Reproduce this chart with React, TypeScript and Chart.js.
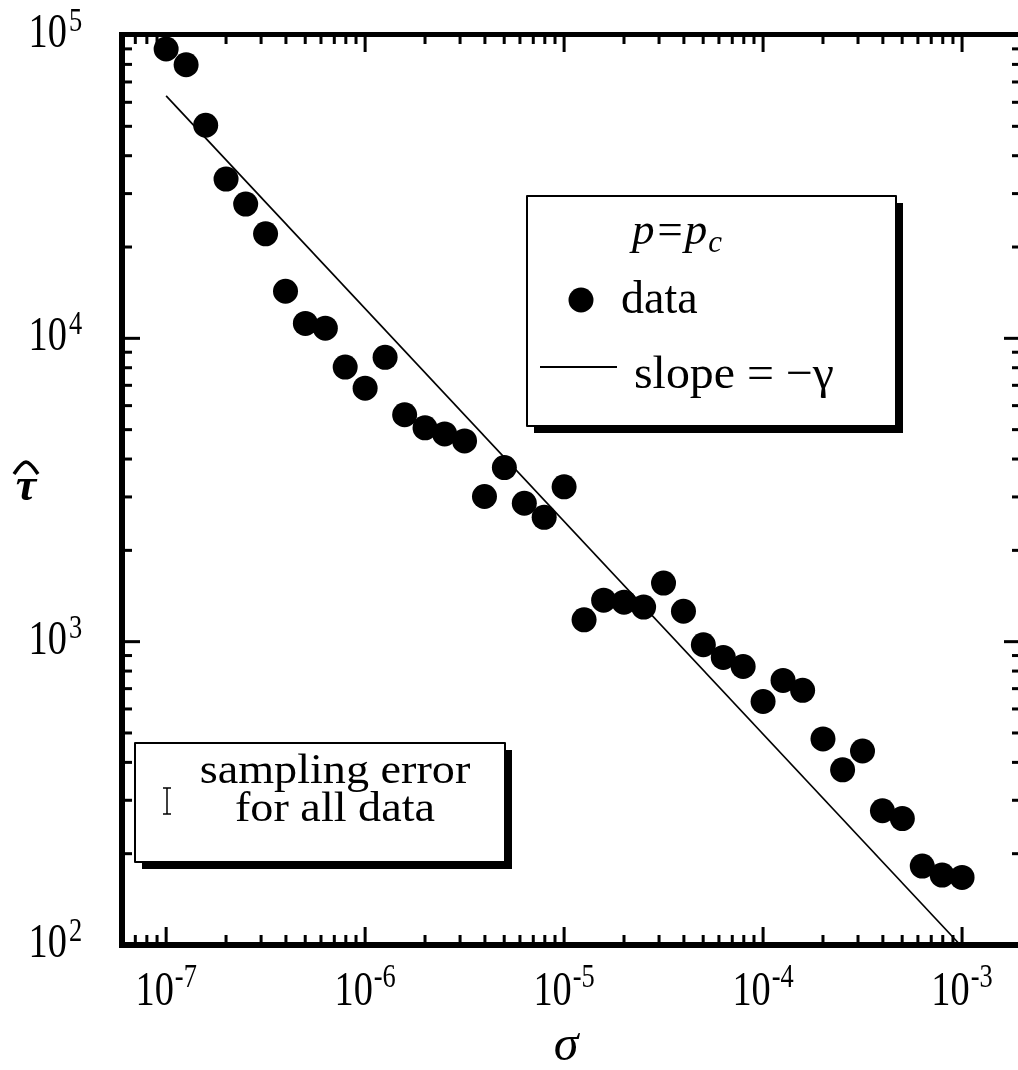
import React, { useEffect, useRef } from 'react';
import { Chart, registerables } from 'chart.js';

Chart.register(...registerables);

// ---- data ----
const sigma = [
  1.0e-7, 1.26e-7, 1.58e-7, 2.0e-7, 2.51e-7, 3.16e-7, 3.98e-7, 5.01e-7, 6.31e-7, 7.94e-7,
  1.0e-6, 1.26e-6, 1.58e-6, 2.0e-6, 2.51e-6, 3.16e-6, 3.98e-6, 5.01e-6, 6.31e-6, 7.94e-6,
  1.0e-5, 1.26e-5, 1.58e-5, 2.0e-5, 2.51e-5, 3.16e-5, 3.98e-5, 5.01e-5, 6.31e-5, 7.94e-5,
  1.0e-4, 1.26e-4, 1.58e-4, 2.0e-4, 2.51e-4, 3.16e-4, 3.98e-4, 5.01e-4, 6.31e-4, 7.94e-4,
  1.0e-3,
];
const tau = [
  89900, 79800, 50400, 33500, 27700, 22100, 14300, 11200, 10800, 8040,
  6850, 8660, 5600, 5070, 4840, 4590, 3010, 3750, 2860, 2570,
  3240, 1180, 1370, 1350, 1300, 1560, 1260, 977, 887, 828,
  635, 745, 691, 478, 378, 436, 277, 261, 182, 170,
  167,
];
const slopeX = [1.0e-7, 9.8e-4];
const slopeY = [63000, 100];

const xTickExps = [-7, -6, -5, -4, -3];
const yTickExps = [2, 3, 4, 5];
const X_MIN = 6.01e-8;
const X_MAX = 2.001e-3;
const Y_MIN = 100;
const Y_MAX = 100000;

const xTitle = 'σ';
const yTitle = 'τ';
const legendTitle = 'p=p';
const legendSub = 'c';
const legendData = 'data';
const legendSlope = 'slope = −γ';
const noteLines = ['sampling error', 'for all data'];

const SERIF = '"Liberation Serif", "Times New Roman", serif';

function drawScaledText(ctx: CanvasRenderingContext2D, text: string, x: number, y: number, sx: number) {
  ctx.save();
  ctx.translate(x, y);
  ctx.scale(sx, 1);
  ctx.fillText(text, 0, 0);
  ctx.restore();
}

const framePlugin = {
  id: 'framePlugin',
  afterDraw(chart: any) {
    const ctx: CanvasRenderingContext2D = chart.ctx;
    const { left, right, top, bottom } = chart.chartArea;
    const xs = chart.scales.x;
    const ys = chart.scales.y;
    ctx.save();
    ctx.fillStyle = '#000';
    ctx.strokeStyle = '#000';

    // frame
    ctx.fillRect(left - 3, top - 3, right - left + 6, 5);
    ctx.fillRect(left - 3, bottom - 3, right - left + 6, 6);
    ctx.fillRect(left - 3, top - 3, 6, bottom - top + 6);
    ctx.fillRect(right - 3, top - 3, 6, bottom - top + 6);

    // ticks
    const ticksFor = (min: number, max: number) => {
      const out: { v: number; major: boolean }[] = [];
      for (let e = Math.floor(Math.log10(min)); e <= Math.ceil(Math.log10(max)); e++) {
        for (let m = 1; m <= 9; m++) {
          const v = m * Math.pow(10, e);
          if (v >= min * 1.0001 && v <= max * 0.9999) out.push({ v, major: m === 1 });
        }
      }
      return out;
    };
    for (const t of ticksFor(X_MIN, X_MAX)) {
      const px = xs.getPixelForValue(t.v);
      const len = t.major ? 15 : 7;
      ctx.fillRect(px - 1.5, bottom - 3 - len, 3, len);
      ctx.fillRect(px - 1.5, top + 2, 3, len);
    }
    for (const t of ticksFor(Y_MIN, Y_MAX)) {
      const py = ys.getPixelForValue(t.v);
      const len = t.major ? 15 : 7;
      ctx.fillRect(left + 3, py - 1.5, len, 3);
      ctx.fillRect(right - 3 - len, py - 1.5, len, 3);
    }

    // tick labels
    ctx.textBaseline = 'alphabetic';
    ctx.textAlign = 'left';
    const baseFont = '48px ' + SERIF;
    const supFont = '33px ' + SERIF;
    const sx = 0.8;
    for (const e of xTickExps) {
      const px = xs.getPixelForValue(Math.pow(10, e));
      ctx.font = baseFont;
      const w10 = ctx.measureText('10').width * sx;
      ctx.font = supFont;
      const es = String(e);
      const we = ctx.measureText(es).width * sx;
      const start = px - (w10 + we + 1) / 2;
      ctx.font = baseFont;
      drawScaledText(ctx, '10', start, 1005, sx);
      ctx.font = supFont;
      drawScaledText(ctx, es, start + w10 + 1, 987, sx);
    }
    for (const e of yTickExps) {
      const py = ys.getPixelForValue(Math.pow(10, e));
      ctx.font = baseFont;
      const w10 = ctx.measureText('10').width * sx;
      drawScaledText(ctx, '10', 67 - w10, py + 12, sx);
      ctx.font = supFont;
      drawScaledText(ctx, String(e), 69, py - 4, sx);
    }

    // axis titles
    ctx.font = 'italic 50px ' + SERIF;
    ctx.textAlign = 'center';
    ctx.fillText(xTitle, 566, 1060);
    ctx.font = 'italic bold 46px ' + SERIF;
    ctx.fillText(yTitle, 26, 500);
    ctx.lineWidth = 3.5;
    ctx.lineJoin = 'round';
    ctx.beginPath();
    ctx.moveTo(14, 474);
    ctx.quadraticCurveTo(22, 462, 26, 462);
    ctx.quadraticCurveTo(30, 462, 38, 474);
    ctx.stroke();

    // legend box
    const drawBox = (x0: number, y0: number, x1: number, y1: number) => {
      ctx.fillStyle = '#000';
      ctx.fillRect(x0 + 7, y0 + 7, x1 - x0, y1 - y0);
      ctx.fillStyle = '#fff';
      ctx.fillRect(x0, y0, x1 - x0, y1 - y0);
      ctx.strokeStyle = '#000';
      ctx.lineWidth = 2;
      ctx.strokeRect(x0, y0, x1 - x0, y1 - y0);
      ctx.fillStyle = '#000';
    };
    drawBox(527, 196, 896, 426);
    ctx.textAlign = 'left';
    ctx.font = 'italic 45px ' + SERIF;
    ctx.fillText(legendTitle, 632, 244);
    const wt = ctx.measureText(legendTitle).width;
    ctx.font = 'italic 31px ' + SERIF;
    ctx.fillText(legendSub, 632 + wt + 1, 252);
    ctx.beginPath();
    ctx.arc(581, 300, 12.5, 0, Math.PI * 2);
    ctx.fill();
    ctx.font = '46px ' + SERIF;
    ctx.fillText(legendData, 621, 313);
    ctx.lineWidth = 2;
    ctx.beginPath();
    ctx.moveTo(540, 367);
    ctx.lineTo(617, 367);
    ctx.stroke();
    ctx.save();
    ctx.translate(634, 388);
    ctx.scale(1.04, 1);
    ctx.fillText(legendSlope, 0, 0);
    ctx.restore();

    // sampling error box
    drawBox(135, 743, 505, 862);
    ctx.font = '42px ' + SERIF;
    ctx.textAlign = 'center';
    ctx.save();
    ctx.translate(335, 783);
    ctx.scale(1.1, 1);
    ctx.fillText(noteLines[0], 0, 0);
    ctx.restore();
    ctx.save();
    ctx.translate(335, 821);
    ctx.scale(1.1, 1);
    ctx.fillText(noteLines[1], 0, 0);
    ctx.restore();
    ctx.lineWidth = 1.5;
    ctx.beginPath();
    ctx.moveTo(167, 788);
    ctx.lineTo(167, 814);
    ctx.moveTo(163, 788);
    ctx.lineTo(171, 788);
    ctx.moveTo(163, 814);
    ctx.lineTo(171, 814);
    ctx.stroke();

    ctx.restore();
  },
};

export default function App() {
  const ref = useRef<HTMLCanvasElement>(null);
  useEffect(() => {
    if (!ref.current) return;
    const chart = new Chart(ref.current, {
      type: 'scatter',
      data: {
        datasets: [
          {
            type: 'line',
            label: 'slope',
            data: slopeX.map((x, i) => ({ x, y: slopeY[i] })),
            borderColor: '#000',
            borderWidth: 1.7,
            pointRadius: 0,
            fill: false,
            clip: false,
            order: 2,
          } as any,
          {
            type: 'scatter',
            label: 'data',
            data: sigma.map((x, i) => ({ x, y: tau[i] })),
            backgroundColor: '#000',
            borderWidth: 0,
            pointRadius: 12.5,
            clip: false,
            order: 1,
          } as any,
        ],
      },
      options: {
        responsive: false,
        animation: false,
        devicePixelRatio: 1,
        events: [],
        layout: { autoPadding: false, padding: { left: 122, right: 2, top: 35, bottom: 125 } },
        plugins: { legend: { display: false }, tooltip: { enabled: false } },
        scales: {
          x: { type: 'logarithmic', min: X_MIN, max: X_MAX, display: false },
          y: { type: 'logarithmic', min: Y_MIN, max: Y_MAX, display: false },
        },
      },
      plugins: [framePlugin],
    });
    return () => chart.destroy();
  }, []);
  return (
    <div style={{ position: 'absolute', left: 0, top: 0, width: 1018, height: 1070, overflow: 'hidden', background: '#fff' }}>
      <canvas ref={ref} width={1024} height={1070} style={{ display: 'block' }} />
    </div>
  );
}
